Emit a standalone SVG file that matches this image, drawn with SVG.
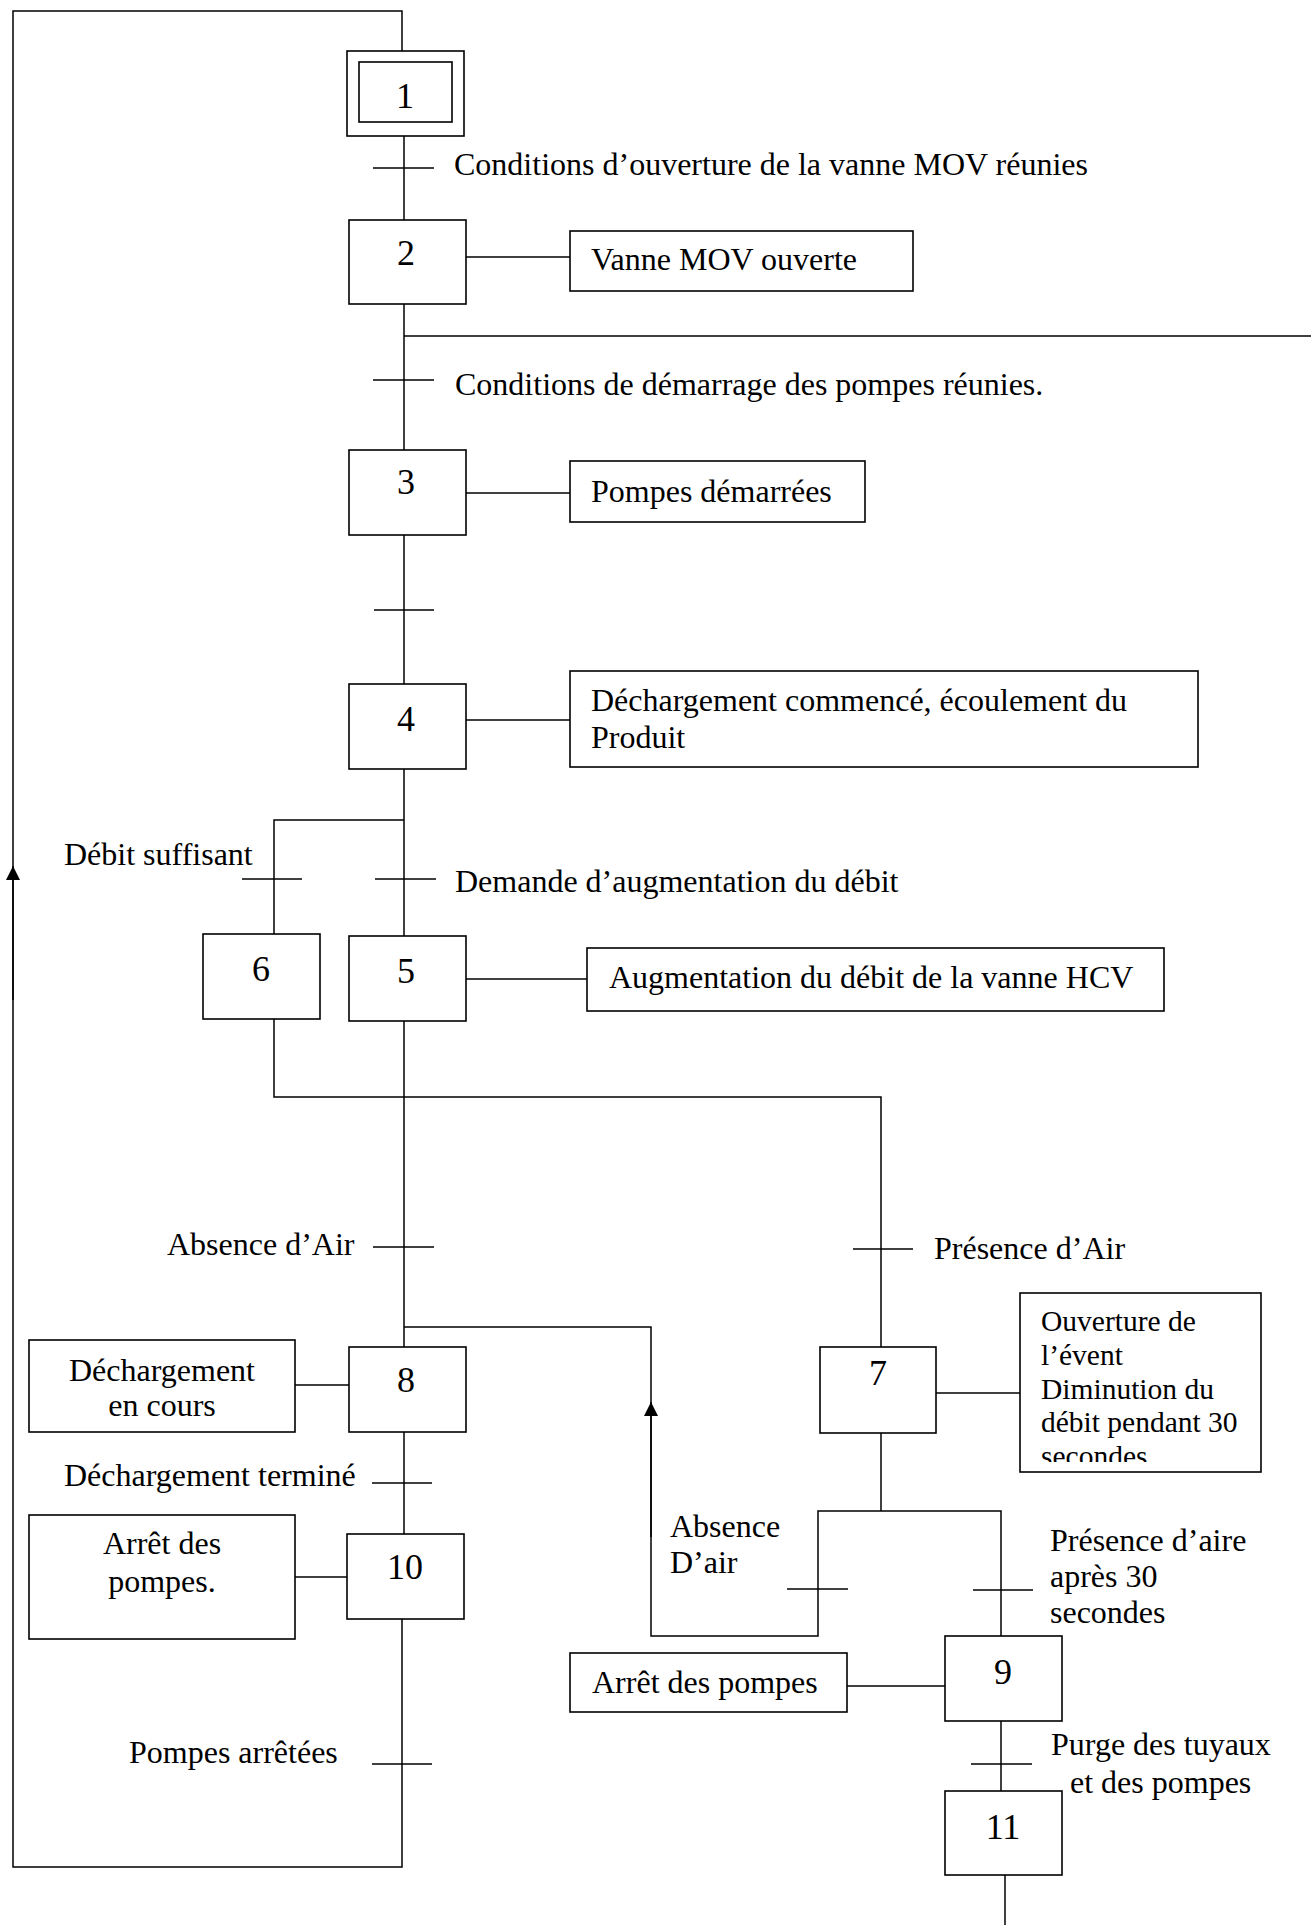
<svg xmlns="http://www.w3.org/2000/svg" width="1311" height="1925" viewBox="0 0 1311 1925">
<style>
  .ln{fill:none;stroke:#000;stroke-width:1.5}
  .bx{fill:#fff;stroke:#000;stroke-width:1.6}
  .t{font-family:"Liberation Serif","Times New Roman",serif;font-size:32px;fill:#000}
  .n{font-family:"Liberation Serif","Times New Roman",serif;font-size:36px;fill:#000;text-anchor:middle}
  .c{text-anchor:middle}
  .s{font-size:29.5px}
</style>
<defs>
  <marker id="arr" viewBox="0 0 10 10" refX="10" refY="5" markerUnits="userSpaceOnUse" markerWidth="16" markerHeight="14" orient="auto">
    <path d="M0,0 L10,5 L0,10 z" fill="#000"/>
  </marker>
  <clipPath id="clip7"><rect x="1020" y="1293" width="241" height="169"/></clipPath>
</defs>
<rect width="1311" height="1925" fill="#fff"/>

<g id="connectors">
  <!-- loop back -->
  <path class="ln" d="M402 51 V11 H13 V1867 H402 V1619"/>
  <path class="ln" d="M13 1000 V866" stroke-width="2.2" marker-end="url(#arr)"/>
  <!-- main spine -->
  <path class="ln" d="M404 136 V220"/>
  <path class="ln" d="M404 304 V450"/>
  <path class="ln" d="M404 336 H1311"/>
  <path class="ln" d="M404 535 V684"/>
  <path class="ln" d="M404 769 V936"/>
  <path class="ln" d="M404 820 H274 V934"/>
  <path class="ln" d="M274 1019 V1097 H881 V1347"/>
  <path class="ln" d="M404 1021 V1347"/>
  <path class="ln" d="M404 1327 H651 V1636 H818 V1511 H1001 V1636"/>
  <path class="ln" d="M651 1537 V1402" stroke-width="2.2" marker-end="url(#arr)"/>
  <path class="ln" d="M881 1433 V1511"/>
  <path class="ln" d="M404 1432 V1534"/>
  <path class="ln" d="M1001 1721 V1791"/>
  <path class="ln" d="M1005 1875 V1925"/>
  <!-- action links -->
  <path class="ln" d="M466 257 H570"/>
  <path class="ln" d="M466 493 H570"/>
  <path class="ln" d="M466 720 H570"/>
  <path class="ln" d="M466 979 H587"/>
  <path class="ln" d="M936 1393 H1020"/>
  <path class="ln" d="M295 1385 H349"/>
  <path class="ln" d="M295 1577 H347"/>
  <path class="ln" d="M847 1686 H945"/>
  <!-- transitions -->
  <path class="ln" d="M373 168 H434"/>
  <path class="ln" d="M373 380 H434"/>
  <path class="ln" d="M374 610 H434"/>
  <path class="ln" d="M242 879 H302"/>
  <path class="ln" d="M375 879 H436"/>
  <path class="ln" d="M373 1247 H434"/>
  <path class="ln" d="M853 1249 H913"/>
  <path class="ln" d="M372 1483 H432"/>
  <path class="ln" d="M372 1764 H432"/>
  <path class="ln" d="M787 1589 H848"/>
  <path class="ln" d="M973 1590 H1033"/>
  <path class="ln" d="M971 1764 H1032"/>
</g>

<g id="transition-labels">
  <text class="t" x="454" y="175">Conditions d’ouverture de la vanne MOV réunies</text>
  <text class="t" x="455" y="395">Conditions de démarrage des pompes réunies.</text>
  <text class="t" x="64" y="865">Débit suffisant</text>
  <text class="t" x="455" y="892">Demande d’augmentation du débit</text>
  <text class="t" x="167" y="1255">Absence d’Air</text>
  <text class="t" x="934" y="1259">Présence d’Air</text>
  <text class="t" x="64" y="1486">Déchargement terminé</text>
  <text class="t" x="129" y="1763">Pompes arrêtées</text>
  <text class="t" x="670" y="1537">Absence</text>
  <text class="t" x="670" y="1573">D’air</text>
  <text class="t" x="1050" y="1551">Présence d’aire</text>
  <text class="t" x="1050" y="1587">après 30</text>
  <text class="t" x="1050" y="1623">secondes</text>
  <text class="t" x="1051" y="1755">Purge des tuyaux</text>
  <text class="t" x="1070" y="1793">et des pompes</text>
</g>

<g id="step1">
  <rect class="bx" x="347" y="51" width="117" height="85"/>
  <rect class="bx" x="359" y="62" width="93" height="60"/>
  <text class="n" x="405" y="108">1</text>
</g>
<g id="step2">
  <rect class="bx" x="349" y="220" width="117" height="84"/>
  <text class="n" x="406" y="265">2</text>
</g>
<g id="action2">
  <rect class="bx" x="570" y="231" width="343" height="60"/>
  <text class="t" x="591" y="270">Vanne MOV ouverte</text>
</g>
<g id="step3">
  <rect class="bx" x="349" y="450" width="117" height="85"/>
  <text class="n" x="406" y="494">3</text>
</g>
<g id="action3">
  <rect class="bx" x="570" y="461" width="295" height="61"/>
  <text class="t" x="591" y="502">Pompes démarrées</text>
</g>
<g id="step4">
  <rect class="bx" x="349" y="684" width="117" height="85"/>
  <text class="n" x="406" y="731">4</text>
</g>
<g id="action4">
  <rect class="bx" x="570" y="671" width="628" height="96"/>
  <text class="t" x="591" y="711">Déchargement commencé, écoulement du</text>
  <text class="t" x="591" y="748">Produit</text>
</g>
<g id="step6">
  <rect class="bx" x="203" y="934" width="117" height="85"/>
  <text class="n" x="261" y="981">6</text>
</g>
<g id="step5">
  <rect class="bx" x="349" y="936" width="117" height="85"/>
  <text class="n" x="406" y="983">5</text>
</g>
<g id="action5">
  <rect class="bx" x="587" y="948" width="577" height="63"/>
  <text class="t" x="609" y="988">Augmentation du débit de la vanne HCV</text>
</g>
<g id="step7">
  <rect class="bx" x="820" y="1347" width="116" height="86"/>
  <text class="n" x="878" y="1385">7</text>
</g>
<g id="action7">
  <rect class="bx" x="1020" y="1293" width="241" height="179"/>
  <g clip-path="url(#clip7)">
    <text class="t s" x="1041" y="1331">Ouverture de</text>
    <text class="t s" x="1041" y="1365">l’évent</text>
    <text class="t s" x="1041" y="1399">Diminution du</text>
    <text class="t s" x="1041" y="1432">débit pendant 30</text>
    <text class="t s" x="1041" y="1466">secondes</text>
  </g>
</g>
<g id="step8">
  <rect class="bx" x="349" y="1347" width="117" height="85"/>
  <text class="n" x="406" y="1392">8</text>
</g>
<g id="action8">
  <rect class="bx" x="29" y="1340" width="266" height="92"/>
  <text class="t c" x="162" y="1381">Déchargement</text>
  <text class="t c" x="162" y="1416">en cours</text>
</g>
<g id="step10">
  <rect class="bx" x="347" y="1534" width="117" height="85"/>
  <text class="n" x="405" y="1579">10</text>
</g>
<g id="action10">
  <rect class="bx" x="29" y="1515" width="266" height="124"/>
  <text class="t c" x="162" y="1554">Arrêt des</text>
  <text class="t c" x="162" y="1592">pompes.</text>
</g>
<g id="step9">
  <rect class="bx" x="945" y="1636" width="117" height="85"/>
  <text class="n" x="1003" y="1684">9</text>
</g>
<g id="action9">
  <rect class="bx" x="570" y="1653" width="277" height="59"/>
  <text class="t" x="592" y="1693">Arrêt des pompes</text>
</g>
<g id="step11">
  <rect class="bx" x="945" y="1791" width="117" height="84"/>
  <text class="n" x="1003" y="1839">11</text>
</g>
</svg>
